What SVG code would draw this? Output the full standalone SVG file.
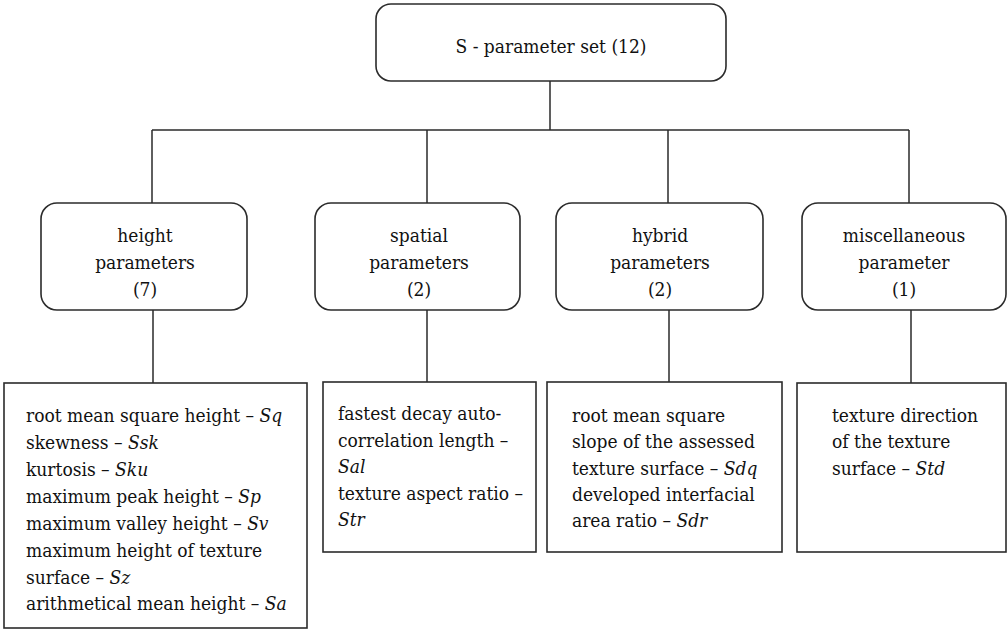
<svg xmlns="http://www.w3.org/2000/svg" width="1008" height="632" viewBox="0 0 1008 632" font-family="'DejaVu Serif Condensed', 'DejaVu Serif', 'Liberation Serif', serif">
<style>
.box{fill:#fff;stroke:#2b2b2b;stroke-width:1.6}
.ln{stroke:#2b2b2b;stroke-width:1.5;fill:none}
text{font-family:'DejaVu Serif Condensed','DejaVu Serif','Liberation Serif',serif;font-size:19px;fill:#111}
.c{text-anchor:middle}
.i{font-style:italic}
</style>
<rect width="1008" height="632" fill="#fff"/>
<g id="connectors">
<path class="ln" d="M550 81V130M152 130H909M152 130V203M427 130V203M668 130V203M909 130V203"/>
<path class="ln" d="M153 310V383M427 310V382M669 310V382M911 310V383"/>
</g>
<g id="root">
<rect class="box" x="376" y="4" width="350" height="77" rx="15"/>
<text class="c" x="551" y="53">S - parameter set (12)</text>
</g>
<g id="height">
<rect class="box" x="41" y="203" width="206" height="107" rx="16"/>
<text class="c" x="145" y="242">height</text>
<text class="c" x="145" y="269">parameters</text>
<text class="c" x="145" y="296">(7)</text>
</g>
<g id="spatial">
<rect class="box" x="315" y="203" width="205" height="107" rx="16"/>
<text class="c" x="419" y="242">spatial</text>
<text class="c" x="419" y="269">parameters</text>
<text class="c" x="419" y="296">(2)</text>
</g>
<g id="hybrid">
<rect class="box" x="556" y="203" width="207" height="107" rx="16"/>
<text class="c" x="660" y="242">hybrid</text>
<text class="c" x="660" y="269">parameters</text>
<text class="c" x="660" y="296">(2)</text>
</g>
<g id="misc">
<rect class="box" x="802" y="203" width="204" height="107" rx="16"/>
<text class="c" x="904" y="242">miscellaneous</text>
<text class="c" x="904" y="269">parameter</text>
<text class="c" x="904" y="296">(1)</text>
</g>
<g id="height-list">
<rect class="box" x="4" y="383" width="303" height="245"/>
<text x="26" y="422">root mean square height – <tspan class="i">Sq</tspan></text>
<text x="26" y="449">skewness – <tspan class="i">Ssk</tspan></text>
<text x="26" y="476">kurtosis – <tspan class="i">Sku</tspan></text>
<text x="26" y="503">maximum peak height – <tspan class="i">Sp</tspan></text>
<text x="26" y="530">maximum valley height – <tspan class="i">Sv</tspan></text>
<text x="26" y="557">maximum height of texture</text>
<text x="26" y="584">surface – <tspan class="i">Sz</tspan></text>
<text x="26" y="610">arithmetical mean height – <tspan class="i">Sa</tspan></text>
</g>
<g id="spatial-list">
<rect class="box" x="323" y="382" width="213" height="170"/>
<text x="338" y="420">fastest decay auto-</text>
<text x="338" y="447">correlation length –</text>
<text x="338" y="473" class="i">Sal</text>
<text x="338" y="500">texture aspect ratio –</text>
<text x="338" y="526" class="i">Str</text>
</g>
<g id="hybrid-list">
<rect class="box" x="547" y="382" width="235" height="170"/>
<text x="572" y="422">root mean square</text>
<text x="572" y="448">slope of the assessed</text>
<text x="572" y="475">texture surface – <tspan class="i">Sdq</tspan></text>
<text x="572" y="501">developed interfacial</text>
<text x="572" y="527">area ratio – <tspan class="i">Sdr</tspan></text>
</g>
<g id="misc-list">
<rect class="box" x="797" y="383" width="209" height="169"/>
<text x="832" y="422">texture direction</text>
<text x="832" y="448">of the texture</text>
<text x="832" y="475">surface – <tspan class="i">Std</tspan></text>
</g>
</svg>
